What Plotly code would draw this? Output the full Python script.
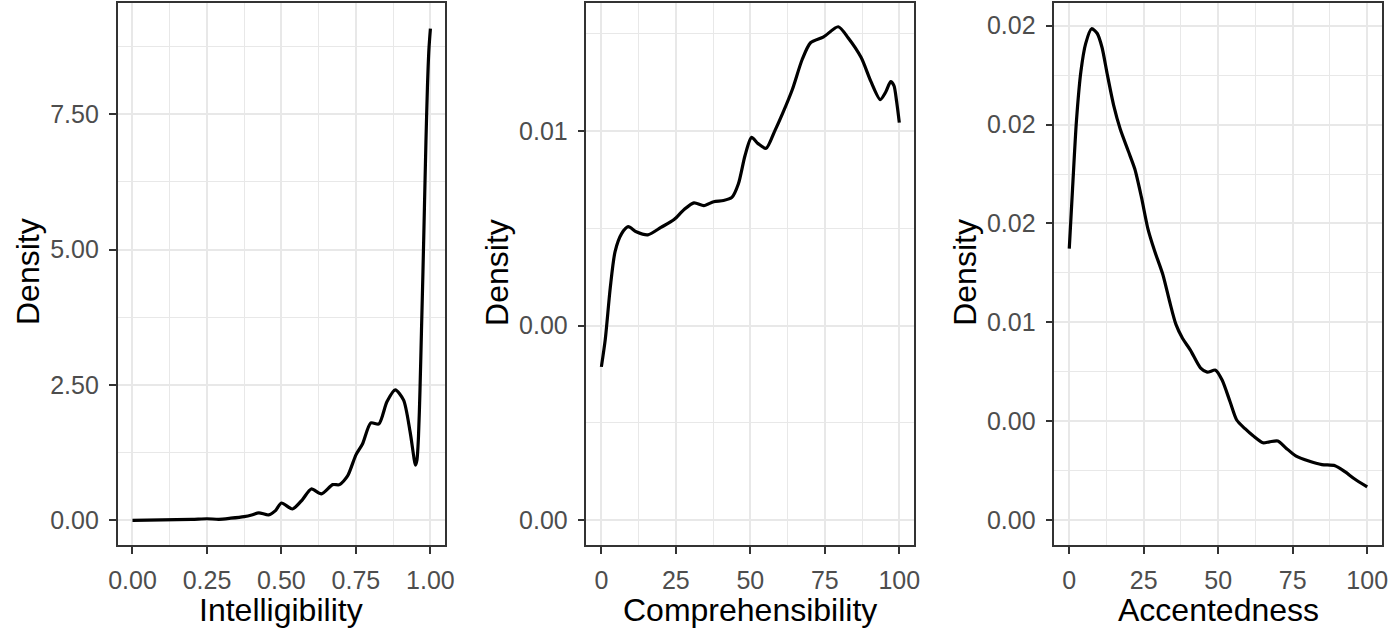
import plotly.graph_objects as go

# ---------------- data ----------------
intel_x = [0.00, 0.10, 0.20, 0.25, 0.29, 0.33, 0.375, 0.40, 0.424, 0.457, 0.48, 0.50, 0.537,
           0.57, 0.60, 0.634, 0.672, 0.695, 0.722, 0.75, 0.772, 0.80, 0.827, 0.854, 0.882,
           0.91, 0.932, 0.950, 0.955, 0.96, 0.965, 0.97, 0.975, 0.98, 0.985, 0.99, 0.995, 1.00]
intel_y = [0.00, 0.01, 0.02, 0.03, 0.02, 0.04, 0.07, 0.10, 0.14, 0.10, 0.18, 0.32, 0.21,
           0.38, 0.58, 0.49, 0.66, 0.66, 0.82, 1.21, 1.41, 1.80, 1.78, 2.19, 2.41,
           2.22, 1.63, 1.02, 1.12, 1.55, 2.40, 3.50, 4.60, 5.80, 7.00, 8.00, 8.70, 9.08]

comp_x = [0.0, 1.3, 3.0, 4.6, 6.8, 9.0, 11.7, 15.6, 20.0, 24.4, 27.8, 31.1, 34.4, 37.7, 41.0,
          43.8, 46.0, 48.2, 50.4, 52.6, 55.3, 58.1, 60.8, 64.1, 67.4, 70.2, 74.6, 79.5, 82.8,
          87.2, 90.5, 93.6, 95.4, 97.1, 98.2, 99.1, 100.0]
comp_y = [0.00394, 0.00464, 0.00598, 0.00690, 0.00736, 0.00754, 0.00741, 0.00733, 0.00752,
          0.00772, 0.00798, 0.00815, 0.00808, 0.00818, 0.00821, 0.00829, 0.00864, 0.00936,
          0.00983, 0.00967, 0.00955, 0.00998, 0.01044, 0.01106, 0.01183, 0.01226, 0.01241,
          0.01267, 0.01239, 0.01188, 0.01126, 0.01080, 0.01099, 0.01126, 0.01116, 0.01075,
          0.01021]

acc_x = [0.0, 1.1, 2.4, 3.9, 5.5, 7.5, 9.4, 11.0, 12.7, 14.9, 17.1, 19.8, 22.0, 24.2, 26.4,
         28.6, 31.4, 33.6, 35.8, 38.0, 40.7, 44.1, 46.3, 49.1, 51.3, 54.0, 56.2, 59.0, 61.7,
         65.0, 67.2, 70.0, 72.7, 76.0, 80.4, 84.8, 89.2, 92.5, 95.8, 100.0]
acc_y = [0.01373, 0.01675, 0.02017, 0.02268, 0.02409, 0.02484, 0.02460, 0.02389, 0.02258,
         0.02097, 0.01977, 0.01866, 0.01775, 0.01634, 0.01473, 0.01363, 0.01242, 0.01111,
         0.00990, 0.00920, 0.00859, 0.00769, 0.00749, 0.00759, 0.00709, 0.00598, 0.00507,
         0.00463, 0.00427, 0.00392, 0.00397, 0.00401, 0.00366, 0.00326, 0.00300, 0.00282,
         0.00276, 0.00246, 0.00209, 0.00169]

x_titles = ["Intelligibility", "Comprehensibility", "Accentedness"]
y_title = "Density"

intel_xticks = [0, 0.25, 0.5, 0.75, 1.0]
intel_xtext = ["0.00", "0.25", "0.50", "0.75", "1.00"]
intel_yticks = [0, 2.5, 5, 7.5]
intel_ytext = ["0.00", "2.50", "5.00", "7.50"]

pct_xticks = [0, 25, 50, 75, 100]
pct_xtext = ["0", "25", "50", "75", "100"]

comp_yticks = [0, 0.005, 0.010]
comp_ytext = ["0.00", "0.00", "0.01"]

acc_yticks = [0, 0.005, 0.010, 0.015, 0.020, 0.025]
acc_ytext = ["0.00", "0.00", "0.01", "0.02", "0.02", "0.02"]

# ---------------- layout helpers ----------------
W, H = 1399, 628
FONT = "Liberation Sans, Arial, Helvetica, sans-serif"
GRID = "#E8E8E8"
BORDER = "#333333"

panels_px = [(110, 442), (585, 917), (1059, 1391)]
top_px, bot_px = 3, 545
ydom = [(H - bot_px) / H, (H - top_px) / H]

fig = go.Figure()

series = [(intel_x, intel_y), (comp_x, comp_y), (acc_x, acc_y)]
for i, (xs, ys) in enumerate(series):
    ax = "" if i == 0 else str(i + 1)
    fig.add_trace(go.Scatter(
        x=xs, y=ys, mode="lines",
        line=dict(color="black", width=3.2, shape="spline", smoothing=0.7),
        xaxis="x" + ax, yaxis="y" + ax, showlegend=False, hoverinfo="skip"))


def axis_cfg(dom, anchor, tickvals, ticktext, minorvals, rng, standoff):
    return dict(domain=dom, anchor=anchor, range=rng,
                tickmode="array", tickvals=tickvals, ticktext=ticktext,
                showgrid=True, gridcolor=GRID, gridwidth=2.2,
                minor=dict(tickmode="array", tickvals=minorvals, showgrid=True,
                           gridcolor=GRID, gridwidth=1.2, ticks=""),
                zeroline=False, showline=True, mirror=True, linecolor=BORDER, linewidth=1.5,
                ticks="outside", ticklen=7, tickwidth=2, tickcolor=BORDER,
                tickfont=dict(family=FONT, size=25, color="#4D4D4D"),
                ticklabelstandoff=standoff, fixedrange=True)


xdoms = [[a / W, b / W] for a, b in panels_px]

fig.update_layout(
    width=W, height=H, margin=dict(l=0, r=0, t=0, b=0),
    paper_bgcolor="white", plot_bgcolor="white",
    xaxis=axis_cfg(xdoms[0], "y", intel_xticks, intel_xtext,
                   [0.125, 0.375, 0.625, 0.875], [-0.05, 1.05], 5),
    yaxis=axis_cfg(ydom, "x", intel_yticks, intel_ytext,
                   [1.25, 3.75, 6.25, 8.75], [-0.455, 9.555], 5),
    xaxis2=axis_cfg(xdoms[1], "y2", pct_xticks, pct_xtext,
                    [12.5, 37.5, 62.5, 87.5], [-5, 105], 5),
    yaxis2=axis_cfg(ydom, "x2", comp_yticks, comp_ytext,
                    [0.0025, 0.0075, 0.0125], [-0.000632, 0.01328], 5),
    xaxis3=axis_cfg(xdoms[2], "y3", pct_xticks, pct_xtext,
                    [12.5, 37.5, 62.5, 87.5], [-5, 105], 5),
    yaxis3=axis_cfg(ydom, "x3", acc_yticks, acc_ytext,
                    [0.0025, 0.0075, 0.0125, 0.0175, 0.0225], [-0.001245, 0.02614], 5),
)

for i, (a, b) in enumerate(panels_px):
    fig.add_annotation(text=x_titles[i], xref="paper", yref="paper",
                       x=(a + b) / 2 / W, y=1 - 610 / H, xanchor="center", yanchor="middle",
                       showarrow=False, font=dict(family=FONT, size=32, color="black"))
    fig.add_annotation(text=y_title, xref="paper", yref="paper",
                       x=(a - 110) / W, y=1 - 272 / H, xanchor="left", yanchor="middle",
                       textangle=-90, showarrow=False, borderpad=0,
                       font=dict(family=FONT, size=32, color="black"))

fig.write_html("out.html")
